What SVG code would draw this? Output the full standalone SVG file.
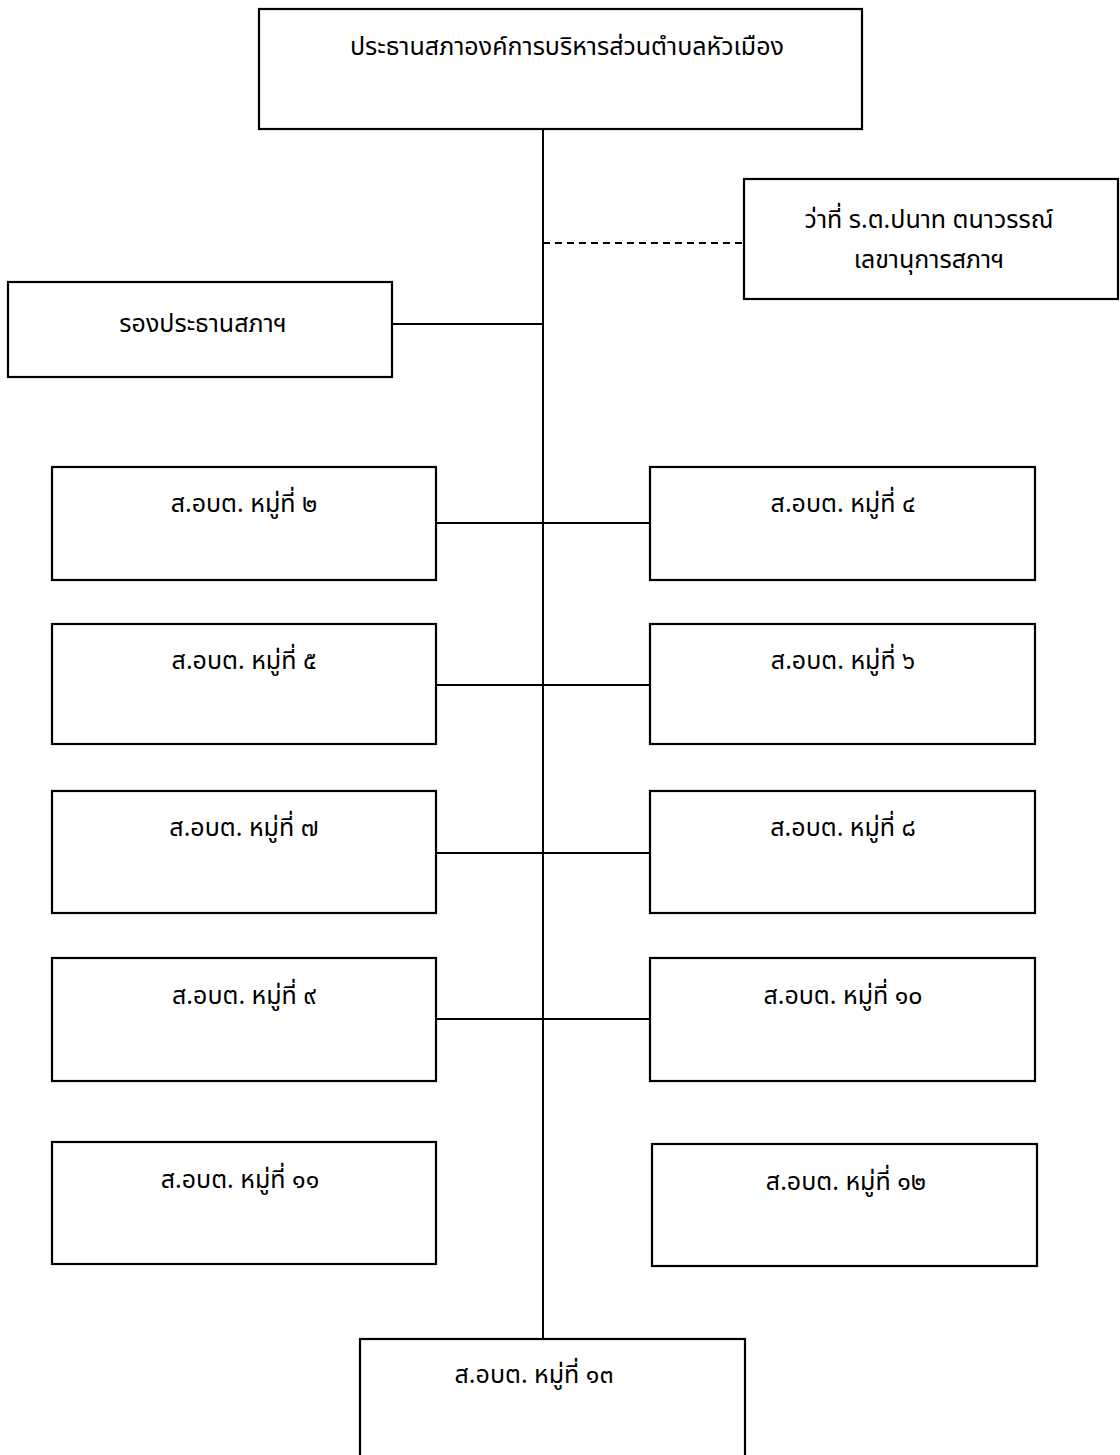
<svg xmlns="http://www.w3.org/2000/svg" width="1120" height="1455" viewBox="0 0 1120 1455">
<style>
.box{fill:#fff;stroke:#000;stroke-width:2.2}
.ln{stroke:#000;stroke-width:2;fill:none}
.dash{stroke:#000;stroke-width:2;fill:none;stroke-dasharray:7 5}
text{font-family:"Noto Sans Thai","Noto Sans Thai UI","Noto Sans","DejaVu Sans",sans-serif;font-size:25px;fill:#000;text-anchor:middle}
</style>
<rect width="1120" height="1455" fill="#fff"/>
<g id="connectors">
<line class="ln" x1="543" y1="129" x2="543" y2="1339"/>
<line class="dash" x1="543" y1="243" x2="744" y2="243"/>
<line class="ln" x1="392" y1="324" x2="543" y2="324"/>
<line class="ln" x1="436" y1="523" x2="650" y2="523"/>
<line class="ln" x1="436" y1="685" x2="650" y2="685"/>
<line class="ln" x1="436" y1="853" x2="650" y2="853"/>
<line class="ln" x1="436" y1="1019" x2="650" y2="1019"/>
</g>
<g id="n-chair"><rect class="box" x="259" y="9" width="603" height="120"/><text x="567" y="55">ประธานสภาองค์การบริหารส่วนตำบลหัวเมือง</text></g>
<g id="n-secretary"><rect class="box" x="744" y="179" width="374" height="120"/><text x="929" y="228">ว่าที่ ร.ต.ปนาท ตนาวรรณ์</text><text x="929" y="268">เลขานุการสภาฯ</text></g>
<g id="n-vice"><rect class="box" x="8" y="282" width="384" height="95"/><text x="203" y="332">รองประธานสภาฯ</text></g>
<g id="n-m2"><rect class="box" x="52" y="467" width="384" height="113"/><text x="244" y="512">ส.อบต. หมู่ที่ ๒</text></g>
<g id="n-m4"><rect class="box" x="650" y="467" width="385" height="113"/><text x="843" y="512">ส.อบต. หมู่ที่ ๔</text></g>
<g id="n-m5"><rect class="box" x="52" y="624" width="384" height="120"/><text x="244" y="669">ส.อบต. หมู่ที่ ๕</text></g>
<g id="n-m6"><rect class="box" x="650" y="624" width="385" height="120"/><text x="843" y="669">ส.อบต. หมู่ที่ ๖</text></g>
<g id="n-m7"><rect class="box" x="52" y="791" width="384" height="122"/><text x="244" y="836">ส.อบต. หมู่ที่ ๗</text></g>
<g id="n-m8"><rect class="box" x="650" y="791" width="385" height="122"/><text x="843" y="836">ส.อบต. หมู่ที่ ๘</text></g>
<g id="n-m9"><rect class="box" x="52" y="958" width="384" height="123"/><text x="244" y="1004">ส.อบต. หมู่ที่ ๙</text></g>
<g id="n-m10"><rect class="box" x="650" y="958" width="385" height="123"/><text x="843" y="1004">ส.อบต. หมู่ที่ ๑๐</text></g>
<g id="n-m11"><rect class="box" x="52" y="1142" width="384" height="122"/><text x="240" y="1188">ส.อบต. หมู่ที่ ๑๑</text></g>
<g id="n-m12"><rect class="box" x="652" y="1144" width="385" height="122"/><text x="846" y="1190">ส.อบต. หมู่ที่ ๑๒</text></g>
<g id="n-m13"><rect class="box" x="360" y="1339" width="385" height="130"/><text x="534" y="1383">ส.อบต. หมู่ที่ ๑๓</text></g>
</svg>
